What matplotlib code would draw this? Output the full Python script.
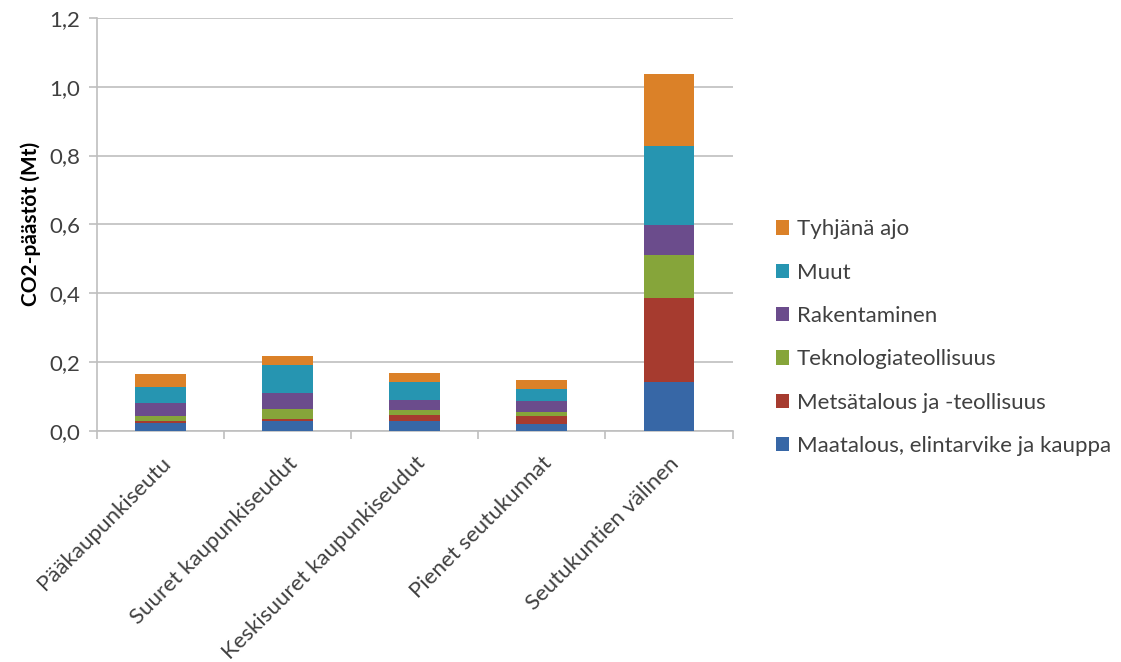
import numpy as np
import matplotlib.pyplot as plt

plt.rcParams['font.family'] = ['Lato', 'DejaVu Sans']

categories = ['Pääkaupunkiseutu', 'Suuret kaupunkiseudut', 'Keskisuuret kaupunkiseudut',
              'Pienet seutukunnat', 'Seutukuntien välinen']
series = ['Maatalous, elintarvike ja kauppa', 'Metsätalous ja -teollisuus',
          'Teknologiateollisuus', 'Rakentaminen', 'Muut', 'Tyhjänä ajo']

maatalous = [0.024, 0.028, 0.030, 0.019, 0.142]
metsatalous = [0.004, 0.008, 0.017, 0.024, 0.243]
teknologia = [0.015, 0.027, 0.013, 0.011, 0.127]
rakentaminen = [0.037, 0.047, 0.031, 0.033, 0.086]
muut = [0.048, 0.082, 0.051, 0.034, 0.231]
tyhja = [0.037, 0.027, 0.027, 0.028, 0.207]

colors = ['#3767A6', '#A63B2F', '#86A53A', '#6B4C8C', '#2695B1', '#DB8128']

fig = plt.figure(figsize=(11.21, 6.62), dpi=100)
ax = fig.add_axes([0.0865, 0.349, 0.567, 0.624])

x = np.arange(len(categories))
bottom = np.zeros(len(categories))
for name, vals, c in zip(series, [maatalous, metsatalous, teknologia, rakentaminen, muut, tyhja], colors):
    ax.bar(x, vals, 0.4, bottom=bottom, color=c, label=name, zorder=3)
    bottom += np.array(vals)

ax.set_xlim(-0.5, len(categories) - 0.5)
ax.set_ylim(0, 1.2)
ax.set_yticks(np.arange(0, 1.21, 0.2))
ax.set_yticklabels([f'{v:.1f}'.replace('.', ',') for v in np.arange(0, 1.21, 0.2)],
                   fontsize=16, color='#404040')
ax.yaxis.grid(True, color='#BFBFBF', linewidth=1.2, zorder=0)
ax.set_axisbelow(True)

ax.set_xticks(np.arange(-0.5, len(categories), 1.0))
ax.set_xticklabels([])
ax.set_xticks(x, minor=True)
ax.set_xticklabels(categories, minor=True, rotation=45, ha='right',
                   rotation_mode='anchor', fontsize=16, color='#404040')
ax.tick_params(axis='x', which='minor', length=0, pad=16)
ax.tick_params(axis='x', which='major', length=6, color='#BFBFBF', width=1.2)
ax.tick_params(axis='y', length=6, color='#BFBFBF', width=1.2, pad=6)

for s in ['top', 'right']:
    ax.spines[s].set_visible(False)
for s in ['left', 'bottom']:
    ax.spines[s].set_color('#BFBFBF')
    ax.spines[s].set_linewidth(1.2)

ax.set_ylabel('CO2-päästöt (Mt)', fontsize=15, fontweight='bold', labelpad=6)

handles, labels = ax.get_legend_handles_labels()
fig.legend(handles[::-1], labels[::-1], loc='center left', bbox_to_anchor=(0.674, 0.49),
           frameon=False, fontsize=16, handlelength=0.6, handleheight=0.6,
           handletextpad=0.35, labelspacing=1.05, labelcolor='#404040')

fig.savefig('out.png', dpi=100)
